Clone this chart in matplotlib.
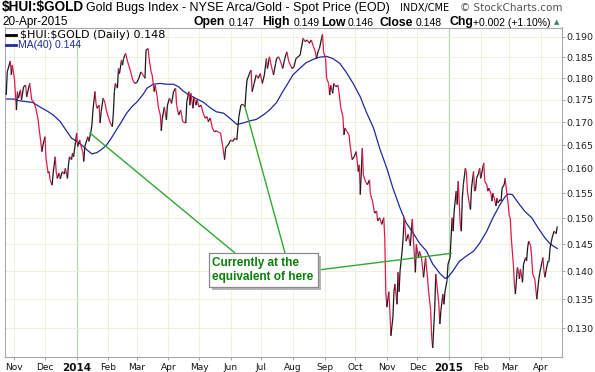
import matplotlib
matplotlib.use("Agg")
import numpy as np
import pandas as pd
import matplotlib.pyplot as plt
import matplotlib.dates as mdates
from matplotlib.collections import LineCollection
from matplotlib.lines import Line2D
from matplotlib.patches import Rectangle
from matplotlib.ticker import FixedLocator, FormatStrFormatter, NullLocator

# dates are stored as days counted from 1 Jan 2014
base_date = "2014-01-01"

price_days = [
    -69, -68, -65, -64, -63, -61, -59, -58, -57, -55, -54, -52, -50, -49, -46, -44, -42, -40, -38, -36,
    -34, -33, -31, -30, -28, -27, -26, -24, -23, -21, -20, -19, -17, -16, -14, -12, -11, -9, -8, -7,
    -5, -4, -3, -1, 0, 1, 3, 4, 6, 7, 8, 10, 11, 12, 14, 15, 16, 18, 19, 20,
    22, 23, 24, 26, 28, 29, 31, 33, 35, 36, 37, 38, 40, 41, 42, 44, 45, 46, 48, 50,
    51, 53, 55, 57, 59, 61, 63, 65, 67, 68, 70, 71, 73, 74, 76, 77, 79, 80, 82, 83,
    84, 86, 88, 89, 91, 93, 95, 97, 98, 100, 102, 104, 107, 108, 110, 111, 112, 114, 115, 117,
    118, 120, 122, 124, 126, 128, 129, 131, 133, 135, 137, 139, 141, 143, 145, 146, 147, 149, 151, 153,
    155, 157, 158, 159, 161, 163, 165, 166, 167, 169, 170, 171, 172, 174, 176, 178, 180, 182, 184, 186,
    187, 189, 191, 193, 195, 196, 198, 200, 202, 204, 206, 208, 211, 213, 215, 217, 219, 222, 224, 226,
    228, 230, 232, 234, 235, 237, 238, 240, 241, 242, 244, 245, 247, 248, 249, 251, 252, 254, 256, 257,
    259, 261, 262, 263, 265, 267, 268, 270, 272, 274, 276, 277, 278, 280, 281, 283, 285, 287, 288, 290,
    292, 294, 295, 297, 299, 301, 302, 303, 304, 306, 307, 308, 310, 311, 312, 314, 315, 316, 317, 319,
    320, 321, 323, 325, 327, 329, 330, 332, 333, 335, 336, 338, 340, 342, 344, 345, 347, 348, 349, 351,
    352, 353, 355, 356, 357, 359, 360, 361, 363, 364, 366, 368, 369, 370, 372, 373, 374, 376, 377, 378,
    379, 381, 382, 383, 385, 386, 387, 389, 390, 391, 392, 394, 395, 396, 398, 399, 400, 402, 403, 404,
    406, 407, 408, 410, 411, 412, 413, 415, 416, 417, 419, 420, 421, 423, 424, 425, 426, 428, 429, 430,
    432, 433, 434, 435, 437, 438, 440, 441, 442, 443, 445, 446, 447, 449, 450, 451, 453, 454, 455, 457,
    458, 459, 460, 462, 463, 464, 466, 467, 468, 470, 471,
]
price_vals = [
    0.1761, 0.1815, 0.1841, 0.1808, 0.1831, 0.1800, 0.1727, 0.1769, 0.1754, 0.1773, 0.1750, 0.1780, 0.1784, 0.1757, 0.1788, 0.1750, 0.1745, 0.1731, 0.1709, 0.1672,
    0.1636, 0.1650, 0.1668, 0.1622, 0.1591, 0.1594, 0.1577, 0.1566, 0.1591, 0.1625, 0.1594, 0.1580, 0.1591, 0.1579, 0.1594, 0.1589, 0.1601, 0.1580, 0.1608, 0.1625,
    0.1619, 0.1633, 0.1625, 0.1658, 0.1676, 0.1647, 0.1661, 0.1650, 0.1636, 0.1615, 0.1647, 0.1661, 0.1668, 0.1658, 0.1679, 0.1694, 0.1727, 0.1769, 0.1742, 0.1731,
    0.1738, 0.1698, 0.1723, 0.1754, 0.1742, 0.1727, 0.1712, 0.1698, 0.1690, 0.1720, 0.1769, 0.1788, 0.1777, 0.1823, 0.1811, 0.1843, 0.1831, 0.1847, 0.1859, 0.1839,
    0.1831, 0.1815, 0.1796, 0.1788, 0.1790, 0.1800, 0.1815, 0.1808, 0.1800, 0.1867, 0.1871, 0.1847, 0.1815, 0.1808, 0.1769, 0.1784, 0.1757, 0.1734, 0.1716, 0.1681,
    0.1709, 0.1734, 0.1705, 0.1738, 0.1754, 0.1742, 0.1769, 0.1777, 0.1738, 0.1716, 0.1727, 0.1701, 0.1698, 0.1746, 0.1769, 0.1738, 0.1765, 0.1731, 0.1757, 0.1738,
    0.1750, 0.1734, 0.1738, 0.1720, 0.1709, 0.1712, 0.1701, 0.1709, 0.1687, 0.1679, 0.1681, 0.1678, 0.1676, 0.1650, 0.1619, 0.1643, 0.1647, 0.1652, 0.1661, 0.1658,
    0.1665, 0.1661, 0.1687, 0.1712, 0.1738, 0.1740, 0.1734, 0.1769, 0.1796, 0.1808, 0.1815, 0.1819, 0.1769, 0.1788, 0.1808, 0.1800, 0.1811, 0.1788, 0.1808, 0.1847,
    0.1823, 0.1851, 0.1827, 0.1808, 0.1835, 0.1847, 0.1851, 0.1839, 0.1823, 0.1847, 0.1863, 0.1839, 0.1823, 0.1827, 0.1847, 0.1851, 0.1855, 0.1896, 0.1888, 0.1892,
    0.1884, 0.1892, 0.1876, 0.1863, 0.1847, 0.1867, 0.1871, 0.1896, 0.1906, 0.1863, 0.1847, 0.1800, 0.1788, 0.1761, 0.1784, 0.1765, 0.1788, 0.1780, 0.1784, 0.1769,
    0.1731, 0.1712, 0.1672, 0.1687, 0.1679, 0.1672, 0.1650, 0.1619, 0.1625, 0.1636, 0.1594, 0.1608, 0.1547, 0.1643, 0.1587, 0.1574, 0.1567, 0.1577, 0.1547, 0.1534,
    0.1510, 0.1514, 0.1495, 0.1501, 0.1488, 0.1501, 0.1462, 0.1363, 0.1336, 0.1363, 0.1330, 0.1287, 0.1319, 0.1363, 0.1377, 0.1341, 0.1398, 0.1363, 0.1401, 0.1437,
    0.1462, 0.1501, 0.1456, 0.1469, 0.1447, 0.1498, 0.1462, 0.1398, 0.1450, 0.1425, 0.1437, 0.1425, 0.1389, 0.1425, 0.1386, 0.1363, 0.1330, 0.1284, 0.1267, 0.1336,
    0.1395, 0.1377, 0.1341, 0.1307, 0.1330, 0.1359, 0.1341, 0.1363, 0.1383, 0.1413, 0.1425, 0.1501, 0.1475, 0.1514, 0.1554, 0.1527, 0.1574, 0.1488, 0.1475, 0.1540,
    0.1567, 0.1601, 0.1594, 0.1554, 0.1527, 0.1517, 0.1560, 0.1594, 0.1554, 0.1557, 0.1580, 0.1591, 0.1601, 0.1580, 0.1601, 0.1612, 0.1574, 0.1567, 0.1554, 0.1560,
    0.1550, 0.1534, 0.1550, 0.1534, 0.1524, 0.1540, 0.1530, 0.1537, 0.1534, 0.1560, 0.1567, 0.1580, 0.1560, 0.1527, 0.1504, 0.1501, 0.1462, 0.1413, 0.1377, 0.1359,
    0.1407, 0.1401, 0.1386, 0.1404, 0.1380, 0.1413, 0.1425, 0.1419, 0.1443, 0.1456, 0.1447, 0.1425, 0.1395, 0.1386, 0.1368, 0.1350, 0.1386, 0.1398, 0.1407, 0.1425,
    0.1401, 0.1389, 0.1401, 0.1419, 0.1419, 0.1443, 0.1462, 0.1469, 0.1475, 0.1470, 0.1484,
]

ma_days = [
    -69, -62, -56, -49, -43, -36, -29, -23, -16, -10, -5, 0, 5, 10, 15, 20, 24, 29, 34, 39,
    44, 49, 54, 59, 65, 69, 75, 82, 88, 95, 100, 104, 111, 118, 124, 131, 137, 144, 150, 157,
    163, 170, 176, 183, 189, 196, 202, 206, 212, 219, 225, 232, 238, 245, 251, 258, 264, 271, 278, 284,
    291, 297, 304, 310, 317, 323, 330, 336, 343, 349, 356, 361, 364, 369, 375, 382, 389, 395, 402, 408,
    415, 420, 423, 427, 433, 439, 446, 452, 459, 464, 467, 471,
]
ma_vals = [
    0.1752, 0.1752, 0.1748, 0.1746, 0.1744, 0.1734, 0.1725, 0.1716, 0.1701, 0.1681, 0.1665, 0.1658, 0.1650, 0.1640, 0.1631, 0.1634, 0.1640, 0.1649, 0.1665, 0.1683,
    0.1701, 0.1720, 0.1734, 0.1745, 0.1762, 0.1777, 0.1786, 0.1788, 0.1786, 0.1786, 0.1780, 0.1771, 0.1760, 0.1752, 0.1745, 0.1732, 0.1723, 0.1720, 0.1709, 0.1695,
    0.1698, 0.1703, 0.1706, 0.1716, 0.1727, 0.1744, 0.1769, 0.1784, 0.1808, 0.1824, 0.1837, 0.1845, 0.1850, 0.1852, 0.1847, 0.1835, 0.1815, 0.1788, 0.1757, 0.1722,
    0.1687, 0.1643, 0.1601, 0.1560, 0.1520, 0.1491, 0.1471, 0.1452, 0.1437, 0.1413, 0.1396, 0.1387, 0.1389, 0.1401, 0.1418, 0.1428, 0.1437, 0.1452, 0.1475, 0.1501,
    0.1527, 0.1543, 0.1548, 0.1547, 0.1530, 0.1514, 0.1501, 0.1482, 0.1462, 0.1451, 0.1447, 0.1442,
]

month_starts = ["2013-11-01", "2013-12-01", "2014-01-01", "2014-02-01", "2014-03-01", "2014-04-01",
                "2014-05-01", "2014-06-01", "2014-07-01", "2014-08-01", "2014-09-01", "2014-10-01",
                "2014-11-01", "2014-12-01", "2015-01-01", "2015-02-01", "2015-03-01", "2015-04-01"]
month_labels = ["Nov", "Dec", "2014", "Feb", "Mar", "Apr", "May", "Jun", "Jul", "Aug", "Sep", "Oct",
                "Nov", "Dec", "2015", "Feb", "Mar", "Apr"]
y_ticks = [0.130, 0.135, 0.140, 0.145, 0.150, 0.155, 0.160, 0.165, 0.170, 0.175, 0.180, 0.185, 0.190]

# header quote fields: (text, left pixel, bold)
quote_fields = [("Open", 194, True), ("0.147", 229, False), ("High", 262, True), ("0.149", 294, False),
                ("Low", 321, True), ("0.146", 348, False), ("Close", 380, True), ("0.148", 416, False),
                ("Chg", 450, True), ("+0.002 (+1.10%)", 473, False)]

# where the comment lines point to
pointer_days = [13, 165, 367.4]
pointer_vals = [0.1676, 0.1734, 0.1433]

W, H = 595, 372
def fx(x):
    return x / W
def fy(y):
    return 1 - y / H

base = mdates.date2num(pd.Timestamp(base_date))
px = base + np.array(price_days, dtype=float)
py = np.array(price_vals)
mx = base + np.array(ma_days, dtype=float)

fig = plt.figure(figsize=(W / 100, H / 100), dpi=100)
ax = fig.add_axes([fx(5), fy(357), (562 - 5) / W, (357 - 27.5) / H])
ax.set_yscale("log")
ax.set_xlim(base - 70.2, base + 475.7)
ax.set_ylim(0.1252, 0.1923)

# grid
ax.yaxis.set_major_locator(FixedLocator(y_ticks))
ax.yaxis.set_minor_locator(NullLocator())
ax.yaxis.set_major_formatter(FormatStrFormatter("%.3f"))
ax.grid(axis="y", color="#f0edd2", lw=0.6)
month_nums = [mdates.date2num(pd.Timestamp(m)) for m in month_starts]
for m, lab in zip(month_nums, month_labels):
    if lab.isdigit():
        ax.axvline(m, color="#b3d9b3", lw=0.9, zorder=0.5)
    else:
        ax.axvline(m, color="#f1eed8", lw=0.6, zorder=0.5)

# price line, red when falling, black when rising
pts = np.column_stack([px, py])
segs = np.stack([pts[:-1], pts[1:]], axis=1)
cols = np.where(np.diff(py) < 0, "#e0184c", "#1a1a1a")
ax.add_collection(LineCollection(segs, colors=cols, linewidths=0.9, zorder=3))

ax.plot(mx, ma_vals, color="#1f2a9c", lw=0.9, zorder=2)

# axes styling
ax.yaxis.tick_right()
ax.tick_params(axis="y", direction="out", length=2.5, width=0.6, color="#999999",
               labelsize=6.8, labelcolor="#222222", pad=0.8)
ax.set_xticks(month_nums)
ax.set_xticklabels(month_labels)
ax.tick_params(axis="x", direction="out", length=2, width=0.6, color="#999999",
               labelsize=6.5, labelcolor="#111111", pad=2)
for t in ax.get_xticklabels():
    if t.get_text().isdigit():
        t.set_fontweight("bold")
        t.set_fontsize(7.5)
for s in ax.spines.values():
    s.set_color("#a8a8a8")
    s.set_linewidth(0.8)

# header
fig.text(fx(2), fy(7.5), r"\$HUI:\$GOLD", fontsize=9.8, fontweight="bold",
         family="Liberation Sans", va="center")
fig.text(fx(86), fy(8), "Gold Bugs Index - NYSE Arca/Gold - Spot Price (EOD)", fontsize=9.0,
         family="Liberation Sans", va="center")
fig.text(fx(400), fy(8), "INDX/CME", fontsize=7, va="center")
fig.text(fx(562), fy(8), "\u00a9 StockCharts.com", fontsize=7.5, color="#555555", ha="right", va="center")
fig.text(fx(2), fy(22.5), "20-Apr-2015", fontsize=8.5, family="Liberation Sans", va="center")
for txt, x0, bold in quote_fields:
    fig.text(fx(x0), fy(22.5), txt, fontsize=8.8 if bold else 7.5, family="Liberation Sans",
             fontweight="bold" if bold else "normal", va="center")
fig.text(fx(554), fy(22), "\u25b2", fontsize=5, color="#2e8b57", va="center")

# legend inside the plot
fig.add_artist(Line2D([fx(6), fx(16)], [fy(34.5), fy(34.5)], color="black", lw=2))
fig.text(fx(20), fy(34.5), r"\$HUI:\$GOLD (Daily) 0.148", fontsize=8, va="center")
fig.add_artist(Line2D([fx(6), fx(16)], [fy(44.5), fy(44.5)], color="#1f2a9c", lw=2))
fig.text(fx(18), fy(44.5), "MA(40) 0.144", fontsize=7.5, family="Liberation Sans",
         color="#1f2a9c", va="center")

# comment box with pointer lines
green = "#2fa82f"
starts = [(235, 253), (285, 253), (318, 270)]
for (sx, sy), d, v in zip(starts, pointer_days, pointer_vals):
    ax.annotate("", xy=(base + d, v), xycoords="data", xytext=(sx, H - sy), textcoords="figure pixels",
                arrowprops=dict(arrowstyle="-", color=green, lw=1, shrinkA=0, shrinkB=0))
fig.add_artist(Rectangle((fx(212.3), fy(289.7)), 109 / W, 33.4 / H, transform=fig.transFigure,
                         facecolor="#b5b5b5", edgecolor="none", zorder=5))
fig.add_artist(Rectangle((fx(209.3), fy(286.7)), 109 / W, 33.4 / H, transform=fig.transFigure,
                         facecolor="white", edgecolor="#8a8a8a", lw=0.9, zorder=6))
fig.text(fx(212), fy(270), "Currently at the\nequivalent of here", fontsize=8.5, fontweight="bold",
         family="Liberation Sans", color="#0a7f0a", va="center", linespacing=1.15, zorder=7)

fig.savefig("out.png", dpi=100)
